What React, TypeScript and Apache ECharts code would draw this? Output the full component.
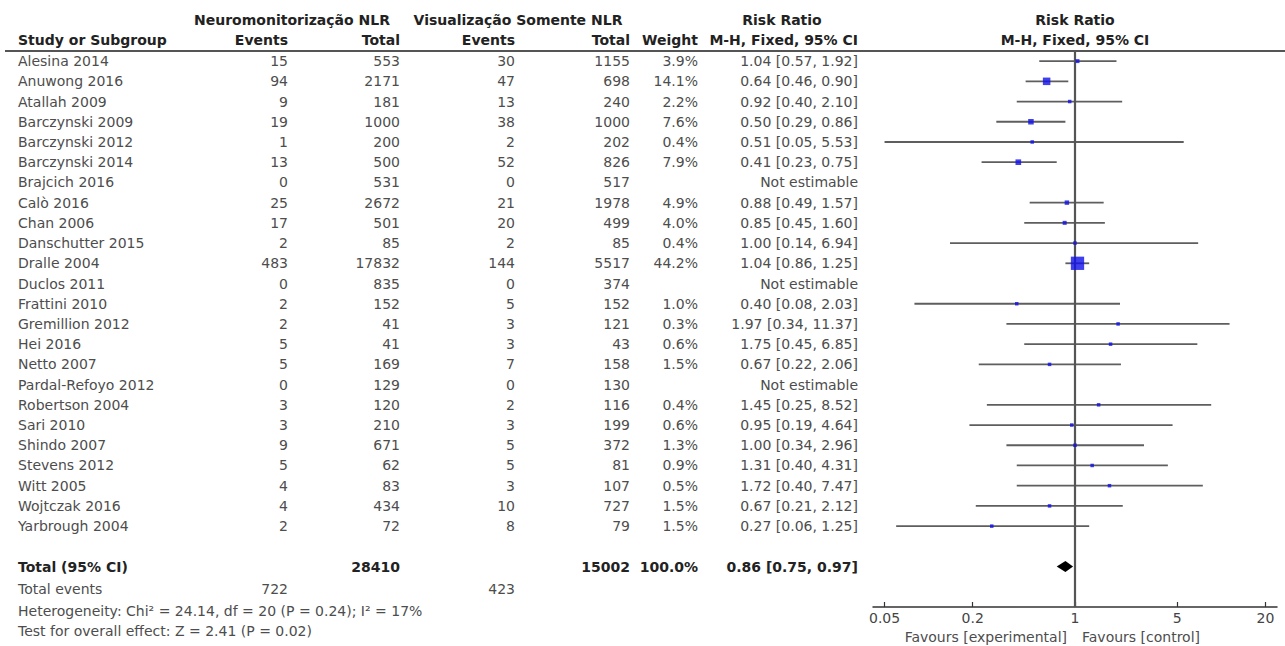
import React, { useEffect, useRef } from "react";
import * as echarts from "echarts";

// ---------- data ----------
const studies = [
  "Alesina 2014", "Anuwong 2016", "Atallah 2009", "Barczynski 2009", "Barczynski 2012",
  "Barczynski 2014", "Brajcich 2016", "Calò 2016", "Chan 2006", "Danschutter 2015",
  "Dralle 2004", "Duclos 2011", "Frattini 2010", "Gremillion 2012", "Hei 2016",
  "Netto 2007", "Pardal-Refoyo 2012", "Robertson 2004", "Sari 2010", "Shindo 2007",
  "Stevens 2012", "Witt 2005", "Wojtczak 2016", "Yarbrough 2004",
];
const expEvents = [15, 94, 9, 19, 1, 13, 0, 25, 17, 2, 483, 0, 2, 2, 5, 5, 0, 3, 3, 9, 5, 4, 4, 2];
const expTotal = [553, 2171, 181, 1000, 200, 500, 531, 2672, 501, 85, 17832, 835, 152, 41, 41, 169, 129, 120, 210, 671, 62, 83, 434, 72];
const ctlEvents = [30, 47, 13, 38, 2, 52, 0, 21, 20, 2, 144, 0, 5, 3, 3, 7, 0, 2, 3, 5, 5, 3, 10, 8];
const ctlTotal = [1155, 698, 240, 1000, 202, 826, 517, 1978, 499, 85, 5517, 374, 152, 121, 43, 158, 130, 116, 199, 372, 81, 107, 727, 79];
const weights: (number | null)[] = [3.9, 14.1, 2.2, 7.6, 0.4, 7.9, null, 4.9, 4.0, 0.4, 44.2, null, 1.0, 0.3, 0.6, 1.5, null, 0.4, 0.6, 1.3, 0.9, 0.5, 1.5, 1.5];
const rr: (number | null)[] = [1.04, 0.64, 0.92, 0.50, 0.51, 0.41, null, 0.88, 0.85, 1.00, 1.04, null, 0.40, 1.97, 1.75, 0.67, null, 1.45, 0.95, 1.00, 1.31, 1.72, 0.67, 0.27];
const ciLow: (number | null)[] = [0.57, 0.46, 0.40, 0.29, 0.05, 0.23, null, 0.49, 0.45, 0.14, 0.86, null, 0.08, 0.34, 0.45, 0.22, null, 0.25, 0.19, 0.34, 0.40, 0.40, 0.21, 0.06];
const ciHigh: (number | null)[] = [1.92, 0.90, 2.10, 0.86, 5.53, 0.75, null, 1.57, 1.60, 6.94, 1.25, null, 2.03, 11.37, 6.85, 2.06, null, 8.52, 4.64, 2.96, 4.31, 7.47, 2.12, 1.25];

const totalLabel = "Total (95% CI)";
const totalExpTotal = 28410;
const totalCtlTotal = 15002;
const totalWeight = 100.0;
const totalRR = 0.86;
const totalLow = 0.75;
const totalHigh = 0.97;
const totalExpEvents = 722;
const totalCtlEvents = 423;
const heterogeneityText = "Heterogeneity: Chi² = 24.14, df = 20 (P = 0.24); I² = 17%";
const overallEffectText = "Test for overall effect: Z = 2.41 (P = 0.02)";

const tickValues = [0.05, 0.2, 1, 5, 20];
const tickLabels = ["0.05", "0.2", "1", "5", "20"];

// ---------- layout ----------
const W = 1285;
const H = 646;
const TOP = 51;
const AXIS_Y = 607;
const ROW_MIN = -0.5;
const ROW_MAX = 27.0;
const TOTAL_ROW = 25;
const EVENTS_ROW = 26.1;
const HET_ROW = 27.2;
const TEST_ROW = 28.2;
const COL_NAME = 18;
const COL_EE = 288;
const COL_ET = 400;
const COL_CE = 515;
const COL_CT = 630;
const COL_W = 698;
const COL_RR = 858;
const FONT = '"DejaVu Sans", Verdana, sans-serif';
const FS = 14;
const ROW_COLOR = "#4d4d4d";
const HEAD_COLOR = "#222";

const fmtRR = (a: number, l: number, h: number) => `${a.toFixed(2)} [${l.toFixed(2)}, ${h.toFixed(2)}]`;
const lg = (v: number) => Math.log10(v);

export default function App() {
  const ref = useRef<HTMLDivElement>(null);

  useEffect(() => {
    document.body.style.margin = "0";
    if (!ref.current) return;
    const chart = echarts.init(ref.current, undefined, { renderer: "svg" });

    const rowFont = `${FS}px ${FONT}`;
    const boldFont = `bold ${FS}px ${FONT}`;

    type Cell = { x: number; text: string; align: string; bold?: boolean };
    type TRow = { row: number; cells: Cell[] };
    const tableRows: TRow[] = studies.map((s, i) => {
      const cells: Cell[] = [
        { x: COL_NAME, text: s, align: "left" },
        { x: COL_EE, text: String(expEvents[i]), align: "right" },
        { x: COL_ET, text: String(expTotal[i]), align: "right" },
        { x: COL_CE, text: String(ctlEvents[i]), align: "right" },
        { x: COL_CT, text: String(ctlTotal[i]), align: "right" },
      ];
      const w = weights[i];
      if (w !== null) cells.push({ x: COL_W, text: `${w.toFixed(1)}%`, align: "right" });
      const r = rr[i], l = ciLow[i], h = ciHigh[i];
      cells.push({
        x: COL_RR,
        text: r !== null && l !== null && h !== null ? fmtRR(r, l, h) : "Not estimable",
        align: "right",
      });
      return { row: i, cells };
    });
    tableRows.push({
      row: TOTAL_ROW,
      cells: [
        { x: COL_NAME, text: totalLabel, align: "left", bold: true },
        { x: COL_ET, text: String(totalExpTotal), align: "right", bold: true },
        { x: COL_CT, text: String(totalCtlTotal), align: "right", bold: true },
        { x: COL_W, text: `${totalWeight.toFixed(1)}%`, align: "right", bold: true },
        { x: COL_RR, text: fmtRR(totalRR, totalLow, totalHigh), align: "right", bold: true },
      ],
    });
    tableRows.push({
      row: EVENTS_ROW,
      cells: [
        { x: COL_NAME, text: "Total events", align: "left" },
        { x: COL_EE, text: String(totalExpEvents), align: "right" },
        { x: COL_CE, text: String(totalCtlEvents), align: "right" },
      ],
    });
    tableRows.push({ row: HET_ROW, cells: [{ x: COL_NAME, text: heterogeneityText, align: "left" }] });
    tableRows.push({ row: TEST_ROW, cells: [{ x: COL_NAME, text: overallEffectText, align: "left" }] });

    const ciData: number[][] = [];
    const pointData: number[][] = [];
    studies.forEach((_, i) => {
      const r = rr[i], l = ciLow[i], h = ciHigh[i], w = weights[i];
      if (r === null || l === null || h === null || w === null) return;
      ciData.push([lg(l), lg(h), i]);
      pointData.push([lg(r), i, w]);
    });

    const headerText = (x: number, y: number, text: string, align: string) => ({
      type: "text",
      x,
      y,
      silent: true,
      style: { text, align, verticalAlign: "middle", font: boldFont, fill: HEAD_COLOR },
    });

    const option: any = {
      animation: false,
      backgroundColor: "#fff",
      grid: [
        { left: 873, width: 404, top: TOP, height: AXIS_Y - TOP, containLabel: false },
        { left: 0, width: W, top: TOP, height: AXIS_Y - TOP, containLabel: false },
      ],
      xAxis: [
        {
          type: "value",
          gridIndex: 0,
          min: -1.38,
          max: 1.38,
          splitLine: { show: false },
          axisLine: { show: true, onZero: false, lineStyle: { color: "#333", width: 1.5 } },
          axisTick: {
            show: true,
            inside: true,
            length: 5,
            customValues: tickValues.map(lg),
            lineStyle: { color: "#333", width: 1.2 },
          },
          axisLabel: {
            show: true,
            customValues: tickValues.map(lg),
            margin: 4,
            color: "#444",
            fontSize: FS,
            fontFamily: FONT,
            formatter: (v: number) => {
              let best = 0;
              tickValues.forEach((t, k) => {
                if (Math.abs(lg(t) - v) < Math.abs(lg(tickValues[best]) - v)) best = k;
              });
              return tickLabels[best];
            },
          },
        },
        { type: "value", gridIndex: 1, min: 0, max: W, show: false },
      ],
      yAxis: [
        { type: "value", gridIndex: 0, inverse: true, min: ROW_MIN, max: ROW_MAX, show: false },
        { type: "value", gridIndex: 1, inverse: true, min: ROW_MIN, max: ROW_MAX, show: false },
      ],
      series: [
        {
          type: "custom",
          name: "table",
          xAxisIndex: 1,
          yAxisIndex: 1,
          silent: true,
          clip: false,
          data: tableRows.map((r) => [0, r.row]),
          encode: { x: 0, y: 1 },
          renderItem: (params: any, api: any) => {
            const tr = tableRows[params.dataIndex];
            const y = api.coord([0, api.value(1)])[1];
            return {
              type: "group",
              children: tr.cells.map((c) => ({
                type: "text",
                x: api.coord([c.x, 0])[0],
                y,
                style: {
                  text: c.text,
                  align: c.align,
                  verticalAlign: "middle",
                  font: c.bold ? boldFont : rowFont,
                  fill: c.bold ? HEAD_COLOR : ROW_COLOR,
                },
              })),
            };
          },
        },
        {
          type: "custom",
          name: "ci",
          xAxisIndex: 0,
          yAxisIndex: 0,
          silent: true,
          data: ciData,
          encode: { x: [0, 1], y: 2 },
          renderItem: (params: any, api: any) => {
            const p1 = api.coord([api.value(0), api.value(2)]);
            const p2 = api.coord([api.value(1), api.value(2)]);
            return {
              type: "line",
              shape: { x1: p1[0], y1: p1[1], x2: p2[0], y2: p2[1] },
              style: { stroke: "#5e5e5e", lineWidth: 1.8 },
            };
          },
          markLine: {
            silent: true,
            symbol: "none",
            label: { show: false },
            lineStyle: { color: "#555", width: 2.2, type: "solid" },
            data: [{ xAxis: 0 }],
          },
        },
        {
          type: "scatter",
          name: "rr",
          xAxisIndex: 0,
          yAxisIndex: 0,
          silent: true,
          symbol: "rect",
          symbolSize: (val: number[]) => Math.max(3.5, 2 * Math.sqrt(val[2])),
          itemStyle: { color: "#0f0fe8" },
          data: pointData,
          z: 5,
        },
        {
          type: "custom",
          name: "total",
          xAxisIndex: 0,
          yAxisIndex: 0,
          silent: true,
          data: [[lg(totalRR), lg(totalLow), lg(totalHigh), TOTAL_ROW]],
          encode: { x: [1, 2], y: 3 },
          renderItem: (params: any, api: any) => {
            const row = api.value(3);
            const c = api.coord([api.value(0), row]);
            const l = api.coord([api.value(1), row]);
            const h = api.coord([api.value(2), row]);
            const half = 5.5;
            return {
              type: "polygon",
              shape: { points: [[l[0], c[1]], [c[0], c[1] - half], [h[0], c[1]], [c[0], c[1] + half]] },
              style: { fill: "#000" },
              z2: 10,
            };
          },
          z: 6,
        },
      ],
      graphic: [
        headerText(292, 20, "Neuromonitorização NLR", "center"),
        headerText(518, 20, "Visualização Somente NLR", "center"),
        headerText(782, 20, "Risk Ratio", "center"),
        headerText(1075, 20, "Risk Ratio", "center"),
        headerText(COL_NAME, 40, "Study or Subgroup", "left"),
        headerText(COL_EE, 40, "Events", "right"),
        headerText(COL_ET, 40, "Total", "right"),
        headerText(COL_CE, 40, "Events", "right"),
        headerText(COL_CT, 40, "Total", "right"),
        headerText(COL_W, 40, "Weight", "right"),
        headerText(COL_RR, 40, "M-H, Fixed, 95% CI", "right"),
        headerText(1075, 40, "M-H, Fixed, 95% CI", "center"),
        {
          type: "line",
          silent: true,
          shape: { x1: 5, y1: TOP, x2: W, y2: TOP },
          style: { stroke: "#555", lineWidth: 2 },
        },
        {
          type: "text",
          x: 1067,
          y: 637,
          silent: true,
          style: { text: "Favours [experimental]", align: "right", verticalAlign: "middle", font: rowFont, fill: ROW_COLOR },
        },
        {
          type: "text",
          x: 1082,
          y: 637,
          silent: true,
          style: { text: "Favours [control]", align: "left", verticalAlign: "middle", font: rowFont, fill: ROW_COLOR },
        },
      ],
    };

    chart.setOption(option);
    return () => chart.dispose();
  }, []);

  return <div ref={ref} style={{ width: W, height: H }} />;
}
